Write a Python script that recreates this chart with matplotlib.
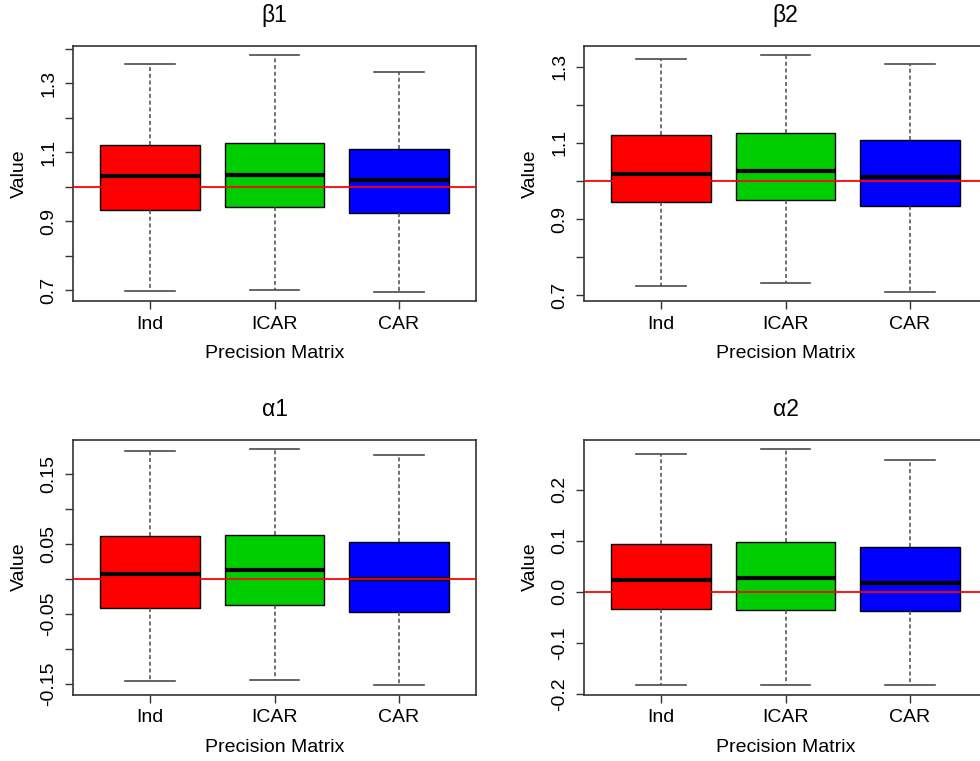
import matplotlib
matplotlib.use("Agg")
import matplotlib.pyplot as plt

plt.rcParams['font.family'] = ['Liberation Sans', 'DejaVu Sans']

# ---------------- data ----------------
categories = ["Ind", "ICAR", "CAR"]
box_colors = ["#FF0000", "#00CD00", "#0000FF"]

# beta1
b1_lo = [0.698, 0.700, 0.696]
b1_q1 = [0.934, 0.941, 0.925]
b1_med = [1.030, 1.035, 1.021]
b1_q3 = [1.120, 1.126, 1.110]
b1_hi = [1.355, 1.381, 1.333]
b1_ticks = [0.7, 0.8, 0.9, 1.0, 1.1, 1.2, 1.3, 1.4]
b1_ticklabels = ["0.7", "", "0.9", "", "1.1", "", "1.3", ""]

# beta2
b2_lo = [0.7245, 0.733, 0.710]
b2_q1 = [0.944, 0.951, 0.934]
b2_med = [1.019, 1.025, 1.010]
b2_q3 = [1.120, 1.126, 1.108]
b2_hi = [1.320, 1.329, 1.307]
b2_ticks = [0.7, 0.8, 0.9, 1.0, 1.1, 1.2, 1.3]
b2_ticklabels = ["0.7", "", "0.9", "", "1.1", "", "1.3"]

# alpha1
a1_lo = [-0.1457, -0.1438, -0.1514]
a1_q1 = [-0.0415, -0.0367, -0.0470]
a1_med = [0.0064, 0.0126, 0.0000]
a1_q3 = [0.0614, 0.0619, 0.0528]
a1_hi = [0.182, 0.185, 0.1765]
a1_ticks = [-0.15, -0.10, -0.05, 0.0, 0.05, 0.10, 0.15]
a1_ticklabels = ["-0.15", "", "-0.05", "", "0.05", "", "0.15"]

# alpha2
a2_lo = [-0.182, -0.182, -0.1824]
a2_q1 = [-0.0339, -0.0352, -0.0371]
a2_med = [0.0228, 0.0267, 0.0182]
a2_q3 = [0.0938, 0.0977, 0.0879]
a2_hi = [0.270, 0.280, 0.258]
a2_ticks = [-0.2, -0.1, 0.0, 0.1, 0.2]
a2_ticklabels = ["-0.2", "-0.1", "0.0", "0.1", "0.2"]

titles = ["\u03b21", "\u03b22", "\u03b11", "\u03b12"]
true_values = [1.0, 1.0, 0.0, 0.0]

# ---------------- figure ----------------
W, H = 980, 761
fig = plt.figure(figsize=(W / 100, H / 100), dpi=100)


def rect(left, top, width, height):
    return [left / W, (H - top - height) / H, width / W, height / H]


positions_px = [
    (73, 46, 403, 255),
    (584, 46, 403, 255),
    (73, 439.5, 403, 255),
    (584, 439.5, 403, 255),
]

data = [
    (b1_lo, b1_q1, b1_med, b1_q3, b1_hi, b1_ticks, b1_ticklabels),
    (b2_lo, b2_q1, b2_med, b2_q3, b2_hi, b2_ticks, b2_ticklabels),
    (a1_lo, a1_q1, a1_med, a1_q3, a1_hi, a1_ticks, a1_ticklabels),
    (a2_lo, a2_q1, a2_med, a2_q3, a2_hi, a2_ticks, a2_ticklabels),
]

FS = 14
line_grey = "#4a4a4a"

for k, (lo, q1, med, q3, hi, ticks, ticklabels) in enumerate(data):
    ax = fig.add_axes(rect(*positions_px[k]))
    n = len(categories)
    stats = [dict(whislo=lo[i], q1=q1[i], med=med[i], q3=q3[i],
                  whishi=hi[i], fliers=[], label=categories[i])
             for i in range(n)]
    pos = list(range(1, n + 1))
    bp = ax.bxp(stats, positions=pos, widths=0.8, patch_artist=True,
                showfliers=False,
                boxprops=dict(edgecolor="black", linewidth=1.0),
                medianprops=dict(color="black", linewidth=3.0,
                                 solid_capstyle="butt"),
                whiskerprops=dict(color=line_grey, linewidth=1.1,
                                  linestyle=(0, (2.6, 1.8))),
                capprops=dict(color=line_grey, linewidth=1.2))
    for patch, c in zip(bp["boxes"], box_colors):
        patch.set_facecolor(c)
    ax.axhline(true_values[k], color="#FF0000", linewidth=1.3, zorder=5)

    ymin, ymax = min(lo), max(hi)
    span = ymax - ymin
    ax.set_ylim(ymin - 0.04 * span, ymax + 0.04 * span)
    ax.set_xlim(0.5 - 0.04 * n, n + 0.5 + 0.04 * n)

    ax.set_xticks(pos)
    ax.set_xticklabels(categories, fontsize=FS)
    ax.set_yticks(ticks)
    ax.set_yticklabels(ticklabels, fontsize=FS, rotation=90, va="center")
    ax.tick_params(axis="both", direction="out", length=5.5, width=1.0,
                   color="#333333")
    ax.tick_params(axis="x", pad=5)
    ax.tick_params(axis="y", pad=6)
    for sp in ax.spines.values():
        sp.set_linewidth(1.2)
        sp.set_color("#333333")

    ax.set_title(titles[k], fontsize=16.5, pad=17)
    ax.set_xlabel("Precision Matrix", fontsize=FS, labelpad=9)
    ax.set_ylabel("Value", fontsize=FS, labelpad=9)

fig.savefig("out.png", dpi=100)
